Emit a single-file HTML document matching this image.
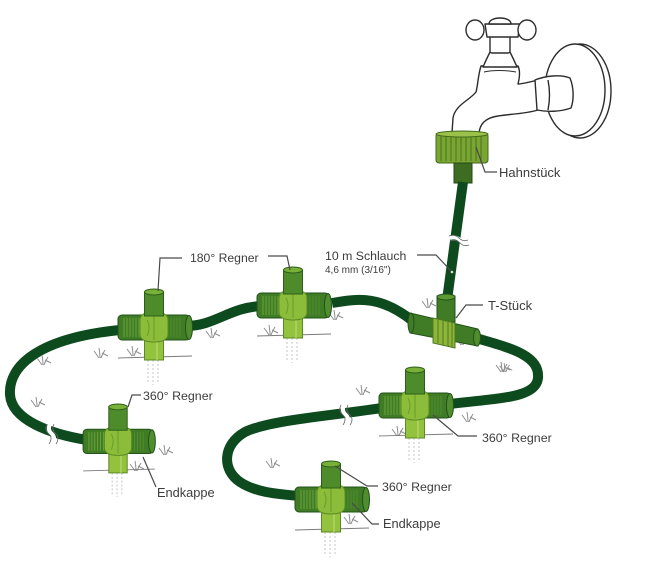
<!DOCTYPE html>
<html><head><meta charset="utf-8"><style>
html,body{margin:0;padding:0;background:#fff;}
svg{display:block;}
text{font-family:"Liberation Sans",Arial,sans-serif;fill:#3c3c3c;}
</style></head><body>
<svg width="650" height="561" viewBox="0 0 650 561" xmlns="http://www.w3.org/2000/svg">
<defs>
<g id="reg">
 <path d="M-6 70V92M-1 70V95M4 70V92" stroke="#c4c4c4" stroke-width="1" stroke-dasharray="2 2" fill="none"/>
 <path d="M-36 68 L38 66" stroke="#7a7a7a" stroke-width="0.9" fill="none"/>
 <rect x="-36" y="25" width="30" height="25" rx="4" fill="#3f7c25" stroke="#22521a" stroke-width="1"/>
 <path d="M-30 28v19M-27 28v19M-24 28v19M-21 28v19M-18 28v19M-15 28v19" stroke="#6aa33a" stroke-width="1"/>
 <rect x="6" y="25" width="30" height="25" rx="4" fill="#3f7c25" stroke="#22521a" stroke-width="1"/>
 <path d="M14 28v19M17 28v19M20 28v19M23 28v19M26 28v19" stroke="#4f8d2e" stroke-width="1"/>
 <ellipse cx="35" cy="37.5" rx="3.5" ry="12" fill="#4f8d2e" stroke="#22521a"/>
 <rect x="-9.5" y="30" width="19" height="40" fill="#93c23e" stroke="#5a8a22"/>
 <line x1="3" y1="50" x2="3" y2="70" stroke="#b8da6a" stroke-width="1.2"/>
 <path d="M-14 30 Q-14 22 0 22 Q14 22 14 30 L14 44 Q14 52 0 52 Q-14 52 -14 44 Z" fill="#8bbd3a" stroke="#5a8a22"/>
 <path d="M0 24 V50 M-7 30 Q-3 37 -7 46" stroke="#6a9c2a" fill="none" stroke-width="1"/>
 <rect x="-9.5" y="2" width="19" height="24" fill="#4e8c2b" stroke="#2d5f1a"/>
 <ellipse cx="0" cy="2" rx="9.5" ry="3" fill="#79b038" stroke="#2d5f1a"/>
</g>
<g id="tuft">
 <path d="M-6 -7 Q-3 -3 -1 0 M-1 -10 Q0 -4 0 0 M5 -8 Q2 -3 1 0 M2 -5 Q6 -3 8 -2" stroke="#8e8e8e" stroke-width="1" fill="none"/>
</g>
</defs>

<!-- Faucet -->
<g fill="#fff" stroke="#2c2c2c" stroke-width="1.4" stroke-linejoin="round">
 <ellipse cx="580" cy="91" rx="31" ry="47"/>
 <ellipse cx="575" cy="90" rx="30" ry="46"/>
 <path d="M481 66 C478 75 478 85 476 92 C470 100 455 105 453 118 L452 133 L479 133 C480 124 485 118 498 116 C510 114 525 114 538 110 L538 80 C530 82 522 84 518 84 C520 76 520 70 518 66 Z"/>
 <path d="M535 80 C545 76 560 74 570 78 C574 88 574 100 571 108 C560 112 547 112 537 110 Z"/>
 <path d="M548 80 C550 90 550 100 548 110" fill="none"/>
 <path d="M483 67 C486 60 488 56 490 52 L510 52 C512 56 514 60 517 67 Z"/>
 <rect x="490" y="36" width="20" height="17" rx="2"/>
 <path d="M485 24 L520 24 L518 37 L487 37 Z"/>
 <ellipse cx="475" cy="30" rx="9" ry="10"/>
 <ellipse cx="527" cy="30" rx="9" ry="10"/>
 <path d="M489 24 C489 16 511 16 511 24 Z"/>
 <path d="M484 72 C492 70 506 70 516 72" fill="none" stroke-width="1"/>
</g>

<!-- Hahnstück -->
<rect x="436" y="133" width="52" height="30" rx="3" fill="#7aa533" stroke="#3f6a1a"/>
<path d="M441 136v25M446 136v25M451 136v25M456 136v25M461 136v25M466 136v25M471 136v25M476 136v25M481 136v25" stroke="#547f22" stroke-width="1.3"/>
<ellipse cx="462" cy="134" rx="26" ry="3" fill="#9cc14a" stroke="#3f6a1a"/>
<rect x="454" y="163" width="18" height="20" fill="#3e6d22" stroke="#234a14"/>

<!-- Hoses -->
<g fill="none" stroke="#0d4b1e" stroke-width="10" stroke-linecap="butt">
 <path d="M463 182 L447 300"/>
 <path d="M332 303 C360 298 382 296 414 322"/>
 <path d="M186 326 C215 326 230 307 262 306"/>
 <path d="M120 330 C40 338 8 365 10 395 C12 420 50 434 87 440"/>
 <path d="M476 338 C510 348 540 355 538 378 C536 398 500 398 450 404"/>
 <path d="M382 408 C330 416 270 420 245 432 C222 445 222 470 240 482 C255 492 275 494 300 496"/>
</g>
<!-- hose breaks -->
<g fill="none">
 <path d="M450 238 Q456 236 460 240 Q464 244 469 242" stroke="#fff" stroke-width="4"/>
 <path d="M449 236 Q455 234 459 238 Q463 242 468 240 M450 241 Q456 239 460 243 Q464 247 469 245" stroke="#666" stroke-width="0.8"/>
 <path d="M50 424 Q47 430 52 434 Q56 438 52 444" stroke="#fff" stroke-width="4"/>
 <path d="M47 424 Q44 430 49 434 Q53 438 49 444 M54 424 Q51 430 56 434 Q60 438 56 444" stroke="#666" stroke-width="0.8"/>
 <path d="M344 405 Q341 411 346 415 Q350 419 346 425" stroke="#fff" stroke-width="4"/>
 <path d="M341 405 Q338 411 343 415 Q347 419 343 425 M348 405 Q345 411 350 415 Q354 419 350 425" stroke="#666" stroke-width="0.8"/>
</g>

<!-- grass tufts -->
<use href="#tuft" transform="translate(43,365)"/>
<use href="#tuft" transform="translate(37,407)"/>
<use href="#tuft" transform="translate(100,358)"/>
<use href="#tuft" transform="translate(133,356)"/>
<use href="#tuft" transform="translate(212,338)"/>
<use href="#tuft" transform="translate(270,335)"/>
<use href="#tuft" transform="translate(335,320)"/>
<use href="#tuft" transform="translate(428,308)"/>
<use href="#tuft" transform="translate(462,345)"/>
<use href="#tuft" transform="translate(502,372)"/>
<use href="#tuft" transform="translate(505,372) scale(0.9)"/>
<use href="#tuft" transform="translate(362,395)"/>
<use href="#tuft" transform="translate(468,422)"/>
<use href="#tuft" transform="translate(398,436)"/>
<use href="#tuft" transform="translate(272,468)"/>
<use href="#tuft" transform="translate(350,524)"/>
<use href="#tuft" transform="translate(165,455)"/>
<use href="#tuft" transform="translate(136,471)"/>

<!-- Regners -->
<use href="#reg" transform="translate(154,290)"/>
<use href="#reg" transform="translate(293,268)"/>
<use href="#reg" transform="translate(118,405) scale(0.97)"/>
<use href="#reg" transform="translate(415,368)"/>
<use href="#reg" transform="translate(331,462)"/>

<!-- T-Stück -->
<g stroke="#22521a" stroke-width="1">
 <path d="M410 313 L478 329 L478 346 L410 333 Z" fill="#3f7c25"/>
 <ellipse cx="477" cy="337.5" rx="3.5" ry="8.5" fill="#4f8d2e"/>
 <ellipse cx="411" cy="323" rx="3" ry="10" fill="#3f7c25"/>
 <rect x="437" y="296" width="18" height="26" fill="#3f7c25"/>
 <ellipse cx="446" cy="297" rx="9" ry="3" fill="#5e9a32"/>
 <path d="M433 318 L455 323 L455 348 L433 343 Z" fill="#8db53a" stroke="#4e7a1f"/>
</g>
<path d="M438 320v23M443 321v24M448 322v24M452 323v24" stroke="#5a8424" stroke-width="1.2"/>

<!-- Leader lines -->
<g fill="none" stroke="#4a4a4a" stroke-width="1.2">
 <path d="M182 258 L160 258 L158 291"/>
 <path d="M268 256 L287 256 L290 270"/>
 <path d="M417 255 L436 255 L452 272"/>
 <path d="M483 305 L466 305 L456 318"/>
 <path d="M497 172 L485 172 L476 147"/>
 <path d="M141 395 L132 395 L128 407"/>
 <path d="M156 487 L143 457"/>
 <path d="M477 436 L458 436 L433 415"/>
 <path d="M378 486 L367 486 L335 466"/>
 <path d="M379 524 L372 524 L352 503"/>
</g>
<circle cx="452" cy="272" r="1.6" fill="#d8e8c0" stroke="#333" stroke-width="0.6"/>

<!-- Labels -->
<text x="190" y="262" font-size="12.2">180° Regner</text>
<text x="325" y="260" font-size="12.3">10 m Schlauch</text>
<text x="325" y="273" font-size="10">4,6 mm (3/16")</text>
<text x="499" y="177" font-size="13">Hahnstück</text>
<text x="488" y="310" font-size="13">T-Stück</text>
<text x="143" y="400" font-size="12.4">360° Regner</text>
<text x="157" y="497" font-size="12.8">Endkappe</text>
<text x="482" y="442" font-size="12.4">360° Regner</text>
<text x="382" y="491" font-size="12.4">360° Regner</text>
<text x="383" y="528" font-size="12.8">Endkappe</text>
</svg>
</body></html>
